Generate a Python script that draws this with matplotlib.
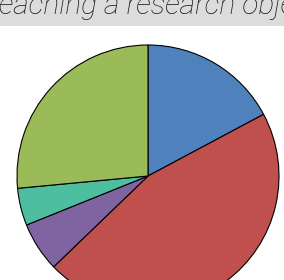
import matplotlib
matplotlib.use("Agg")
import matplotlib.pyplot as plt
from matplotlib.patches import Rectangle

# share of each approach (in %)
labels = ["A", "B", "C", "D", "E"]
values = [17.2, 45.6, 6.1, 4.6, 26.5]
colors = ["#4F81BD", "#C0504D", "#8064A2", "#4DBE9F", "#9BBB59"]
title = "Ways of reaching a research objective"

W, H = 284, 280
FS = 21.5
fig = plt.figure(figsize=(W / 100, H / 100), dpi=100)
fig.patch.set_facecolor("white")

# gray title band
fig.patches.append(Rectangle((0, 1 - 26 / H), 1, 26 / H, transform=fig.transFigure,
                             facecolor="#DCDCDC", edgecolor="none", zorder=0))
t = fig.text(0, 0, title, fontfamily="Roboto", fontweight="light", style="italic",
             fontsize=FS, color="#1a1a1a", ha="left", va="baseline")
# shift so the visible part starts at "eaching"
fig.canvas.draw()
r = fig.canvas.get_renderer()
pre = fig.text(0, 0, "Ways of r", fontfamily="Roboto", fontweight="light",
               style="italic", fontsize=FS)
pre_w = pre.get_window_extent(r).width
pre.remove()
t.set_position(((-pre_w - 1) / W, 1 - 14 / H))

ax = fig.add_axes([0, 0, 1, 1])
ax.pie(values, colors=colors, startangle=90, counterclock=False,
       center=(148, H - 176), radius=131,
       wedgeprops={"edgecolor": "black", "linewidth": 0.8})
ax.set_xlim(0, W)
ax.set_ylim(0, H)
ax.set_aspect("equal")
ax.axis("off")

fig.savefig("out.png", dpi=100)
